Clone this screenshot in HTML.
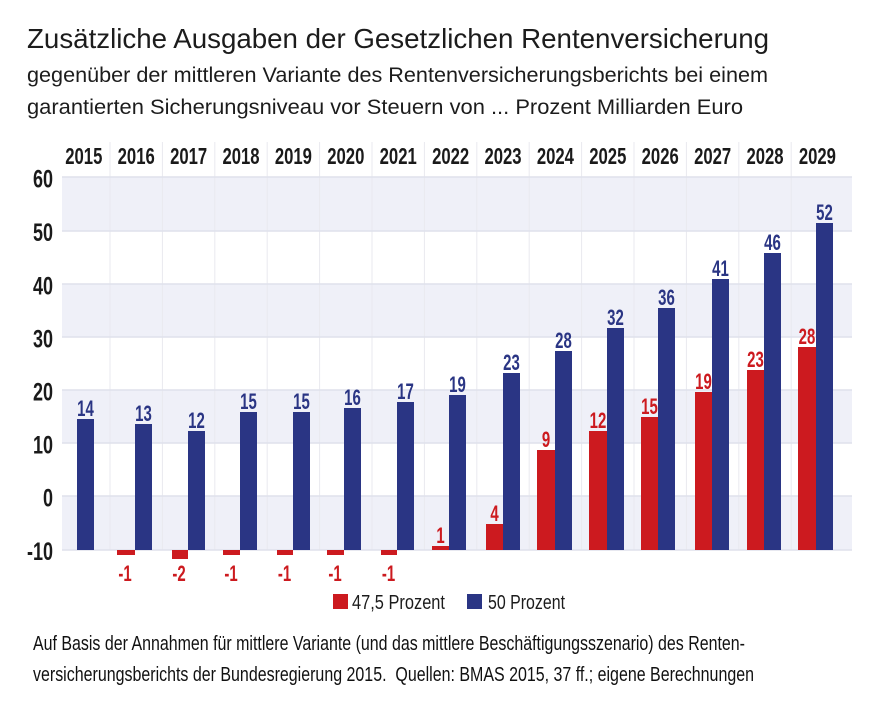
<!DOCTYPE html>
<html>
<head>
<meta charset="utf-8">
<style>
html,body{margin:0;padding:0;background:#fff;}
svg{display:block;}
.t{font-family:"Liberation Sans",sans-serif;fill:#1c1c1c;}
.f{font-family:"Liberation Sans",sans-serif;fill:#111;}
.n{font-family:"Liberation Sans",sans-serif;font-weight:bold;}
.yr{fill:#1a1a1a;font-size:23.5px;}
.ax{fill:#1a1a1a;font-size:25px;}
.bl{fill:#2a3584;font-size:22px;}
.rl{fill:#cc1a1f;font-size:22px;}
</style>
</head>
<body>
<svg width="880" height="708" viewBox="0 0 880 708" xmlns="http://www.w3.org/2000/svg">
<rect width="880" height="708" fill="#fff"/>

<!-- Title -->
<text class="t" x="27" y="48" font-size="28" textLength="742" lengthAdjust="spacingAndGlyphs">Zusätzliche Ausgaben der Gesetzlichen Rentenversicherung</text>
<text class="t" x="27" y="82" font-size="21.5" textLength="741" lengthAdjust="spacingAndGlyphs">gegenüber der mittleren Variante des Rentenversicherungsberichts bei einem</text>
<text class="t" x="27" y="114" font-size="21.5" textLength="716" lengthAdjust="spacingAndGlyphs">garantierten Sicherungsniveau vor Steuern von ... Prozent Milliarden Euro</text>

<!-- Bands -->
<rect x="62" y="177" width="790" height="54" fill="#eff0f8"/>
<rect x="62" y="284" width="790" height="53" fill="#eff0f8"/>
<rect x="62" y="390" width="790" height="53" fill="#eff0f8"/>
<rect x="62" y="496" width="790" height="54" fill="#eff0f8"/>

<!-- Column separators -->
<g stroke="#e9e9ef" stroke-width="1">
<line x1="110" y1="142" x2="110" y2="550"/>
<line x1="162.4" y1="142" x2="162.4" y2="550"/>
<line x1="214.8" y1="142" x2="214.8" y2="550"/>
<line x1="267.2" y1="142" x2="267.2" y2="550"/>
<line x1="319.6" y1="142" x2="319.6" y2="550"/>
<line x1="372" y1="142" x2="372" y2="550"/>
<line x1="424.4" y1="142" x2="424.4" y2="550"/>
<line x1="476.8" y1="142" x2="476.8" y2="550"/>
<line x1="529.2" y1="142" x2="529.2" y2="550"/>
<line x1="581.6" y1="142" x2="581.6" y2="550"/>
<line x1="634" y1="142" x2="634" y2="550"/>
<line x1="686.4" y1="142" x2="686.4" y2="550"/>
<line x1="738.8" y1="142" x2="738.8" y2="550"/>
<line x1="791.2" y1="142" x2="791.2" y2="550"/>
</g>

<!-- Gridlines -->
<g stroke="#dfe1ec" stroke-width="1.5">
<line x1="62" y1="177" x2="852" y2="177"/>
<line x1="62" y1="231" x2="852" y2="231"/>
<line x1="62" y1="284" x2="852" y2="284"/>
<line x1="62" y1="337" x2="852" y2="337"/>
<line x1="62" y1="390" x2="852" y2="390"/>
<line x1="62" y1="443" x2="852" y2="443"/>
<line x1="62" y1="496" x2="852" y2="496"/>
<line x1="62" y1="550" x2="852" y2="550"/>
</g>

<!-- Year labels -->
<g class="n yr" text-anchor="middle">
<text transform="translate(83.8,164) scale(0.71,1)">2015</text>
<text transform="translate(136.2,164) scale(0.71,1)">2016</text>
<text transform="translate(188.6,164) scale(0.71,1)">2017</text>
<text transform="translate(241,164) scale(0.71,1)">2018</text>
<text transform="translate(293.4,164) scale(0.71,1)">2019</text>
<text transform="translate(345.8,164) scale(0.71,1)">2020</text>
<text transform="translate(398.2,164) scale(0.71,1)">2021</text>
<text transform="translate(450.6,164) scale(0.71,1)">2022</text>
<text transform="translate(503,164) scale(0.71,1)">2023</text>
<text transform="translate(555.4,164) scale(0.71,1)">2024</text>
<text transform="translate(607.8,164) scale(0.71,1)">2025</text>
<text transform="translate(660.2,164) scale(0.71,1)">2026</text>
<text transform="translate(712.6,164) scale(0.71,1)">2027</text>
<text transform="translate(765,164) scale(0.71,1)">2028</text>
<text transform="translate(817.4,164) scale(0.71,1)">2029</text>
</g>

<!-- Y axis labels -->
<g class="n ax" text-anchor="end">
<text transform="translate(53,187.5) scale(0.72,1)">60</text>
<text transform="translate(53,241) scale(0.72,1)">50</text>
<text transform="translate(53,294.5) scale(0.72,1)">40</text>
<text transform="translate(53,347.5) scale(0.72,1)">30</text>
<text transform="translate(53,400.5) scale(0.72,1)">20</text>
<text transform="translate(53,453.5) scale(0.72,1)">10</text>
<text transform="translate(53,506.5) scale(0.72,1)">0</text>
<text transform="translate(53,560) scale(0.72,1)">-10</text>
</g>

<!-- Blue bars -->
<g fill="#2a3584">
<rect x="77" y="419" width="17" height="131"/>
<rect x="135" y="424" width="17" height="126"/>
<rect x="188" y="431" width="17" height="119"/>
<rect x="240" y="412" width="17" height="138"/>
<rect x="293" y="412" width="17" height="138"/>
<rect x="344" y="408" width="17" height="142"/>
<rect x="397" y="402" width="17" height="148"/>
<rect x="449" y="395" width="17" height="155"/>
<rect x="503" y="373" width="17" height="177"/>
<rect x="555" y="351" width="17" height="199"/>
<rect x="607" y="328" width="17" height="222"/>
<rect x="658" y="308" width="17" height="242"/>
<rect x="712" y="279" width="17" height="271"/>
<rect x="764" y="253" width="17" height="297"/>
<rect x="816" y="223" width="17" height="327"/>
</g>

<!-- Red bars -->
<g fill="#cc1a1f">
<rect x="117" y="550" width="18" height="5"/>
<rect x="172" y="550" width="16" height="9"/>
<rect x="223" y="550" width="17" height="5"/>
<rect x="277" y="550" width="16" height="5"/>
<rect x="327" y="550" width="17" height="5"/>
<rect x="381" y="550" width="16" height="5"/>
<rect x="432" y="546" width="17" height="4"/>
<rect x="486" y="524" width="17" height="26"/>
<rect x="537" y="450" width="18" height="100"/>
<rect x="589" y="431" width="18" height="119"/>
<rect x="641" y="417" width="17" height="133"/>
<rect x="695" y="392" width="17" height="158"/>
<rect x="747" y="370" width="17" height="180"/>
<rect x="798" y="347" width="18" height="203"/>
</g>

<!-- Blue value labels -->
<g class="n bl" text-anchor="middle">
<text transform="translate(85.5,416) scale(0.68,1)">14</text>
<text transform="translate(143.5,421) scale(0.68,1)">13</text>
<text transform="translate(196.5,428) scale(0.68,1)">12</text>
<text transform="translate(248.5,409) scale(0.68,1)">15</text>
<text transform="translate(301.5,409) scale(0.68,1)">15</text>
<text transform="translate(352.5,405) scale(0.68,1)">16</text>
<text transform="translate(405.5,399) scale(0.68,1)">17</text>
<text transform="translate(457.5,392) scale(0.68,1)">19</text>
<text transform="translate(511.5,370) scale(0.68,1)">23</text>
<text transform="translate(563.5,348) scale(0.68,1)">28</text>
<text transform="translate(615.5,325) scale(0.68,1)">32</text>
<text transform="translate(666.5,305) scale(0.68,1)">36</text>
<text transform="translate(720.5,276) scale(0.68,1)">41</text>
<text transform="translate(772.5,250) scale(0.68,1)">46</text>
<text transform="translate(824.5,220) scale(0.68,1)">52</text>
</g>

<!-- Red value labels -->
<g class="n rl" text-anchor="middle">
<text transform="translate(125,581) scale(0.68,1)">-1</text>
<text transform="translate(179,581) scale(0.68,1)">-2</text>
<text transform="translate(231,581) scale(0.68,1)">-1</text>
<text transform="translate(284.5,581) scale(0.68,1)">-1</text>
<text transform="translate(335,581) scale(0.68,1)">-1</text>
<text transform="translate(388.5,581) scale(0.68,1)">-1</text>
<text transform="translate(440.5,543) scale(0.68,1)">1</text>
<text transform="translate(494.5,521) scale(0.68,1)">4</text>
<text transform="translate(546,447) scale(0.68,1)">9</text>
<text transform="translate(598,428) scale(0.68,1)">12</text>
<text transform="translate(649.5,414) scale(0.68,1)">15</text>
<text transform="translate(703.5,389) scale(0.68,1)">19</text>
<text transform="translate(755.5,367) scale(0.68,1)">23</text>
<text transform="translate(807,344) scale(0.68,1)">28</text>
</g>

<!-- Legend -->
<rect x="333" y="594" width="15" height="15" fill="#cc1a1f"/>
<text class="t" x="352" y="609" font-size="20" textLength="93" lengthAdjust="spacingAndGlyphs">47,5 Prozent</text>
<rect x="467" y="594" width="15" height="15" fill="#2a3584"/>
<text class="t" x="488" y="609" font-size="20" textLength="77" lengthAdjust="spacingAndGlyphs">50 Prozent</text>

<!-- Footer -->
<text class="f" x="33" y="650" font-size="20" textLength="712" lengthAdjust="spacingAndGlyphs">Auf Basis der Annahmen für mittlere Variante (und das mittlere Beschäftigungsszenario) des Renten-</text>
<text class="f" x="33" y="681" font-size="20" textLength="721" lengthAdjust="spacingAndGlyphs">versicherungsberichts der Bundesregierung 2015.&#160; Quellen: BMAS 2015, 37 ff.; eigene Berechnungen</text>
</svg>
</body>
</html>
